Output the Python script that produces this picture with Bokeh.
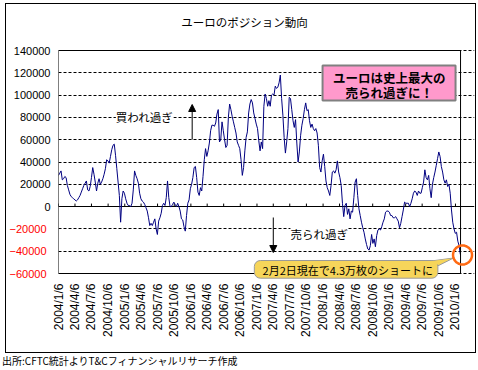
import math
import html
import pandas as pd
from bokeh.plotting import figure
from bokeh.layouts import column
from bokeh.models import (FixedTicker, Label, Arrow, NormalHead, BoxAnnotation,
                          PolyAnnotation, LinearAxis, Grid, BasicTickFormatter, Div)
from bokeh.embed import file_html
from bokeh.resources import INLINE

# ---------------- data ----------------
TITLE = "ユーロのポジション動向"
SOURCE = "出所:CFTC統計よりT&Cフィナンシャルリサーチ作成"
START_DATE = "2004-01-06"
END_DATE = "2010-02-03"

# weekly net euro positions (contracts), 2004/1/6 .. 2010/2/2
positions = [
    28000, 30000, 32000, 24000, 25000, 27000, 26000, 19000, 15000, 11000,
    9000, 8000, 7000, 6000, 5000, 6000, 8000, 10000, 13000, 16000,
    19000, 21000, 23000, 15000, 14000, 18000, 26000, 35000, 29000, 22000,
    14000, 21000, 25000, 20000, 22000, 25000, 29000, 34000, 42000, 41000,
    39000, 45000, 51000, 55000, 56000, 46000, 34000, 22000, 10000, -14000,
    7000, 14000, 12000, 7000, 3000, 1000, 1000, 0, 3000, 15000,
    32000, 28000, 25000, 21000, 12000, 7000, 5000, 4000, 2000, -1000,
    -4000, -10000, -17000, -15000, -17000, -14000, -11000, -20000, -25000, -13000,
    -10000, -6000, 1000, 3000, 1000, 8000, 23000, 8000, 0, 0,
    2000, 4000, 2000, 0, 3000, 0, -4000, -11000, -12000, -18000,
    -22000, -8000, 3000, 6000, 16000, 20000, 26000, 35000, 36000, 26000,
    13000, 10000, 17000, 14000, 27000, 42000, 52000, 45000, 50000, 57000,
    68000, 73000, 73000, 72000, 75000, 83000, 87000, 58000, 60000, 76000,
    68000, 60000, 53000, 55000, 80000, 92000, 87000, 81000, 76000, 71000,
    66000, 58000, 55000, 52000, 42000, 28000, 35000, 50000, 62000, 67000,
    84000, 92000, 96000, 93000, 84000, 79000, 74000, 70000, 59000, 50000,
    58000, 52000, 90000, 101000, 97000, 90000, 95000, 90000, 100000, 101000,
    100000, 108000, 106000, 107000, 111000, 118000, 97000, 82000, 62000, 48000,
    58000, 70000, 98000, 97000, 87000, 77000, 71000, 78000, 57000, 40000,
    49000, 64000, 73000, 79000, 87000, 93000, 86000, 87000, 77000, 71000,
    74000, 70000, 68000, 70000, 66000, 55000, 35000, 31000, 41000, 47000,
    36000, 23000, 17000, 14000, 10000, 19000, 31000, 32000, 30000, 33000,
    41000, 31000, 26000, 19000, 3000, -9000, 1000, 3000, -7000, -2000,
    -11000, -4000, -5000, 8000, 22000, 25000, 10000, -2000, -8000, -14000,
    -19000, -23000, -29000, -34000, -38000, -39000, -35000, -25000, -33000, -29000,
    -36000, -26000, -21000, -20000, -21000, -18000, -14000, -11000, -5000, -4000,
    -4000, -5000, -8000, -8000, -10000, -10000, -9000, -11000, -13000, -19000,
    -15000, -9000, -3000, 4000, 3000, 3000, 3000, 0, 3000, 7000,
    12000, 14000, 13000, 10000, 14000, 12000, 12000, 17000, 22000, 33000,
    26000, 24000, 28000, 16000, 8000, 20000, 26000, 31000, 37000, 43000,
    49000, 45000, 36000, 31000, 24000, 21000, 24000, 18000, 20000, 12000,
    -3000, -14000, -20000, -24000, -23000, -31000, -35000, -43000,
]

x_tick_labels = [
    "2004/1/6", "2004/4/6", "2004/7/6", "2004/10/6",
    "2005/1/6", "2005/4/6", "2005/7/6", "2005/10/6",
    "2006/1/6", "2006/4/6", "2006/7/6", "2006/10/6",
    "2007/1/6", "2007/4/6", "2007/7/6", "2007/10/6",
    "2008/1/6", "2008/4/6", "2008/7/6", "2008/10/6",
    "2009/1/6", "2009/4/6", "2009/7/6", "2009/10/6",
    "2010/1/6",
]
y_ticks_pos = [0, 20000, 40000, 60000, 80000, 100000, 120000, 140000]
y_ticks_neg = [-20000, -40000, -60000]
Y_MIN, Y_MAX = -60000, 140000

# ---------------- layout (page pixels) ----------------
OX, OY = 6, 4                 # figure offset on the page (outer box drawn 1px outside)
W, H = 469, 348               # figure size
PL, PR, PT, PB = 57, 460, 50, 273   # visible plot area on the page
FR_PAGE, FB_PAGE, FT_PAGE = 474, 279, 8   # frame extends so notes are not clipped

x0 = pd.Timestamp(START_DATE)
x1 = pd.Timestamp(END_DATE)
x0_ms = x0.value / 1e6
x1_ms = x1.value / 1e6


def dx(px):  # page pixel -> data x (annotation placement)
    return x0_ms + (px - PL) / (PR - PL) * (x1_ms - x0_ms)


def dy(py):  # page pixel -> data y (annotation placement)
    return Y_MAX - (py - PT) / (PB - PT) * (Y_MAX - Y_MIN)


dates = pd.date_range(START_DATE, periods=len(positions), freq="7D")
tick_ms = [pd.to_datetime(t, format="%Y/%m/%d").value / 1e6 for t in x_tick_labels]

p = figure(width=W, height=H, x_axis_type="datetime",
           x_range=(x0_ms, dx(FR_PAGE)), y_range=(dy(FB_PAGE), dy(FT_PAGE)),
           output_backend="svg", toolbar_location=None,
           min_border_left=PL - OX, min_border_right=OX + W - FR_PAGE,
           min_border_top=FT_PAGE - OY, min_border_bottom=OY + H - FB_PAGE,
           margin=(OY, 0, 0, OX))
p.styles = {"outline": "1px solid black"}
p.background_fill_color = "white"
p.border_fill_color = "white"
p.outline_line_color = None

JP = "Noto Sans CJK JP"

# chart title
p.add_layout(Label(x=dx(180), y=dy(21.7), text=TITLE, text_align="left",
                   text_baseline="middle", text_font=JP, text_font_size="11.5px",
                   text_color="black"))

# grids
p.xgrid.visible = False
p.ygrid.ticker = FixedTicker(ticks=y_ticks_neg + y_ticks_pos[1:])
p.ygrid.grid_line_color = "black"
p.ygrid.grid_line_dash = "3 2"
p.ygrid.grid_line_width = 1
p.ygrid.bounds = (x0_ms, x1_ms)
zero_grid = Grid(dimension=1, ticker=FixedTicker(ticks=[0]), grid_line_color="black",
                 grid_line_width=1, bounds=(x0_ms, x1_ms))
p.add_layout(zero_grid)

# y axis (positive labels black)
p.yaxis.ticker = FixedTicker(ticks=y_ticks_pos)
p.yaxis.formatter = BasicTickFormatter(use_scientific=False)
for ax in [p.yaxis[0]]:
    ax.axis_line_color = None
    ax.major_tick_line_color = None
    ax.minor_tick_line_color = None
    ax.major_tick_in = 0
    ax.major_tick_out = 0
    ax.major_label_standoff = 8
    ax.major_label_text_font = "Liberation Sans"
    ax.major_label_text_font_size = "11px"
    ax.major_label_text_color = "black"

# second left axis: negative labels in red, pulled back onto the first axis
neg_axis = LinearAxis(ticker=FixedTicker(ticks=y_ticks_neg),
                      formatter=BasicTickFormatter(use_scientific=False),
                      axis_line_color=None, major_tick_line_color=None,
                      minor_tick_line_color=None, major_tick_in=0, major_tick_out=0,
                      major_label_standoff=-36, major_label_text_font="Liberation Sans",
                      major_label_text_font_size="11px", major_label_text_color="red")
p.add_layout(neg_axis, "left")

# x axis
p.xaxis.ticker = FixedTicker(ticks=tick_ms)
p.xaxis.major_label_overrides = {t: lab for t, lab in zip(tick_ms, x_tick_labels)}
p.xaxis.major_label_orientation = math.pi / 2
p.xaxis.axis_line_color = None
p.xaxis.major_tick_line_color = None
p.xaxis.minor_tick_line_color = None
p.xaxis.major_tick_in = 0
p.xaxis.major_tick_out = 0
p.xaxis.major_label_standoff = 283 - FB_PAGE
p.xaxis.major_label_text_font = "Liberation Sans"
p.xaxis.major_label_text_font_size = "12px"
p.xaxis.major_label_text_color = "black"

# tick marks on the zero line
p.segment(x0=tick_ms, y0=[0] * len(tick_ms), x1=tick_ms, y1=[2700] * len(tick_ms),
          line_color="black", line_width=1)

# series
p.line(dates, positions, line_color="#000080", line_width=1)

# plot-area border
p.add_layout(BoxAnnotation(left=x0_ms, right=x1_ms, top=Y_MAX, bottom=Y_MIN,
                           fill_color=None, line_color="black", line_alpha=1,
                           line_width=1))

# overbought / oversold notes
p.add_layout(Label(x=dx(143.3), y=dy(116.7), text="買われ過ぎ", text_align="center",
                   text_baseline="middle", text_font=JP, text_font_size="11.5px",
                   text_color="black", background_fill_color="white"))
p.add_layout(Arrow(end=NormalHead(size=7, fill_color="black", line_color="black"),
                   x_start=dx(191), y_start=dy(139), x_end=dx(191), y_end=dy(104),
                   line_color="black", line_width=1))
p.add_layout(Label(x=dx(318.3), y=dy(233.3), text="売られ過ぎ", text_align="center",
                   text_baseline="middle", text_font=JP, text_font_size="11.5px",
                   text_color="black", background_fill_color="white"))
p.add_layout(Arrow(end=NormalHead(size=7, fill_color="black", line_color="black"),
                   x_start=dx(272.3), y_start=dy(217), x_end=dx(272.3), y_end=dy(252),
                   line_color="black", line_width=1))

# pink box
p.add_layout(BoxAnnotation(left=dx(321.7), right=dx(455), top=dy(65), bottom=dy(100),
                           fill_color="#FF99CC", fill_alpha=1, line_color="#808080",
                           line_alpha=1, line_width=2))
p.add_layout(Label(x=dx(388.5), y=dy(76.5), text="ユーロは史上最大の", text_align="center",
                   text_baseline="middle", text_font=JP, text_font_size="12.5px",
                   text_font_style="bold", text_color="black"))
p.add_layout(Label(x=dx(388.5), y=dy(92), text="売られ過ぎに！", text_align="center",
                   text_baseline="middle", text_font=JP, text_font_size="12.5px",
                   text_font_style="bold", text_color="black"))

# callout
p.add_layout(PolyAnnotation(xs=[dx(423), dx(453), dx(434)], ys=[dy(261.5), dy(257.5), dy(267)],
                            fill_color="#F6D55A", fill_alpha=1, line_color="#9A9A9A",
                            line_alpha=1, line_width=1))
p.add_layout(BoxAnnotation(left=dx(253.3), right=dx(437.3), top=dy(260), bottom=dy(277.7),
                           fill_color="#F6D55A", fill_alpha=1, line_color="#9A9A9A",
                           line_alpha=1, line_width=1, border_radius=6))
p.add_layout(PolyAnnotation(xs=[dx(421), dx(451), dx(432)], ys=[dy(262), dy(258), dy(266)],
                            fill_color="#F6D55A", fill_alpha=1, line_color=None))
p.add_layout(Label(x=dx(347), y=dy(269), text="2月2日現在で4.3万枚のショートに",
                   text_align="center", text_baseline="middle", text_font=JP,
                   text_font_size="11px", text_color="black"))

# orange circle
cx, cy, r = 462.0, 254.5, 9.5
n = 48
p.add_layout(PolyAnnotation(
    xs=[dx(cx + r * math.cos(2 * math.pi * k / n)) for k in range(n)],
    ys=[dy(cy + r * math.sin(2 * math.pi * k / n)) for k in range(n)],
    fill_color=None, line_color="#FF6A13", line_alpha=1, line_width=2.5))

# source note below the chart box
footer = Div(text=html.escape(SOURCE), width=476, height=18, margin=(0, 0, 0, 2),
             styles={"font-family": "'Noto Sans CJK JP'", "font-size": "10px",
                     "line-height": "18px", "color": "black", "white-space": "nowrap"})

layout = column(p, footer, spacing=0)
open("out.html", "w").write(file_html(layout, INLINE))
